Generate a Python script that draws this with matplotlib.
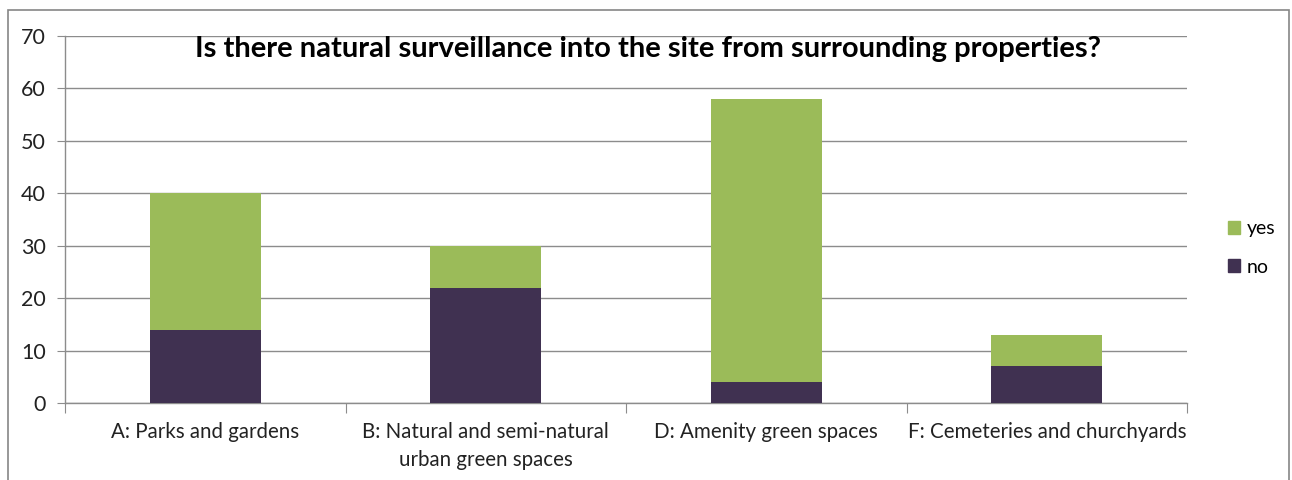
import matplotlib
matplotlib.use("Agg")
import matplotlib.pyplot as plt
from matplotlib.patches import Rectangle

categories = ["A: Parks and gardens", "B: Natural and semi-natural\nurban green spaces",
              "D: Amenity green spaces", "F: Cemeteries and churchyards"]
no_vals = [14, 22, 4, 7]
yes_vals = [26, 8, 54, 6]
title = "Is there natural surveillance into the site from surrounding properties?"

green = "#9BBB59"
purple = "#403151"
plt.rcParams['font.family'] = ['Lato', 'DejaVu Sans']

W, H = 1292, 480
fig = plt.figure(figsize=(W / 100, H / 100), dpi=100)
# outer chart border
fig.patches.append(Rectangle((8 / W, -0.1), (1289 - 8) / W, (480 - 10) / H + 0.1,
                             transform=fig.transFigure, fill=False,
                             edgecolor="#868686", linewidth=1.2))

ax = fig.add_axes([65 / W, (480 - 403) / H, (1187 - 65) / W, (403 - 36) / H])
x = list(range(len(categories)))
ax.bar(x, no_vals, width=0.396, color=purple, label="no", zorder=3)
ax.bar(x, yes_vals, bottom=no_vals, width=0.396, color=green, label="yes", zorder=3)

ax.set_xlim(-0.5, len(categories) - 0.5)
ax.set_ylim(0, 70)
ax.set_yticks(range(0, 71, 10))
ax.yaxis.grid(True, color="#8c8c8c", linewidth=1, zorder=0)
ax.set_axisbelow(True)
for s in ["top", "right"]:
    ax.spines[s].set_visible(False)
for s in ["left", "bottom"]:
    ax.spines[s].set_color("#8c8c8c")
    ax.spines[s].set_linewidth(1)

ax.set_xticks([i - 0.5 for i in range(len(categories) + 1)])
ax.set_xticklabels([])
ax.set_xticks(x, minor=True)
ax.set_xticklabels(categories, minor=True, fontsize=14.8, color="#222222", linespacing=1.45)
ax.tick_params(axis="x", which="minor", length=0, pad=14)
ax.tick_params(axis="x", which="major", length=7, color="#8c8c8c")
ax.tick_params(axis="y", length=6, color="#8c8c8c", labelsize=15.5, pad=8, labelcolor="#222222")

fig.text(648 / W, 1 - 36 / H, title, ha="center", va="top",
         fontsize=21, fontweight="bold", color="black")

handles = [Rectangle((0, 0), 1, 1, color=green), Rectangle((0, 0), 1, 1, color=purple)]
fig.legend(handles, ["yes", "no"], loc="center left", bbox_to_anchor=(1210 / W, 1 - 248 / H),
           frameon=False, fontsize=14, handlelength=0.65, handleheight=0.65,
           labelspacing=1.1, handletextpad=0.35)

fig.savefig("out.png", dpi=100)
